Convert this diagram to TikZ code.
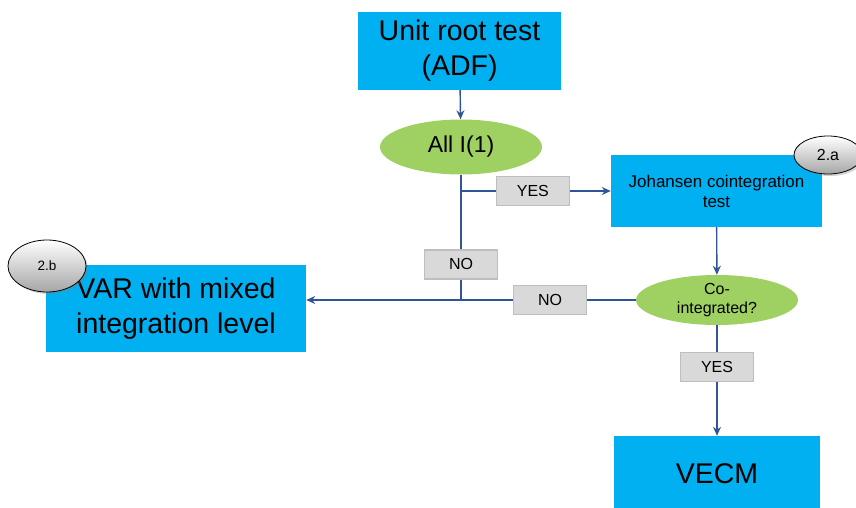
\documentclass[tikz,border=0pt]{standalone}
\usepackage{fontspec}
\setmainfont{Liberation Sans}
\usetikzlibrary{shapes.geometric, shadows, arrows.meta}
\definecolor{boxcyan}{RGB}{0,176,240}
\definecolor{decgreen}{RGB}{158,208,98}
\definecolor{lineblue}{RGB}{47,85,151}
\definecolor{lblgray}{RGB}{217,217,217}
\definecolor{lbledge}{RGB}{190,190,190}

\begin{document}
\begin{tikzpicture}[
    x=1pt, y=-1pt,
    bigbox/.style={rectangle, fill=boxcyan, inner sep=0pt, align=center, font=\fontsize{28.5}{35}\selectfont},
    smallbox/.style={rectangle, fill=boxcyan, inner sep=0pt, align=center, font=\fontsize{17}{20}\selectfont},
    decision/.style={ellipse, fill=decgreen, inner sep=0pt, align=center},
    lbl/.style={rectangle, draw=lbledge, fill=lblgray, minimum width=73pt, minimum height=29pt, inner sep=0pt, font=\fontsize{16}{19}\selectfont},
    badge/.style={ellipse, draw=black, line width=0.8pt, top color=white, bottom color=black!35, minimum height=38pt, drop shadow={shadow xshift=2pt, shadow yshift=-2pt, opacity=0.35}},
    line/.style={draw=lineblue, line width=1.4pt},
    arrow/.style={line, -{Stealth[length=9pt, width=8pt]}}
]
    \clip (0,0) rectangle (856,508);
    \useasboundingbox (0,0) rectangle (856,508);
    % Test boxes
    \node[bigbox, minimum width=203pt, minimum height=78pt] (adf) at (459.5,51) {Unit root test\\(ADF)};
    \node[smallbox, minimum width=211pt, minimum height=72pt] (johansen) at (716.5,191) {Johansen cointegration\\test};
    \node[bigbox, minimum width=260pt, minimum height=87pt] (var) at (176,308.5) {VAR with mixed\\integration level};
    \node[bigbox, minimum width=206pt, minimum height=76pt] (vecm) at (717,474) {VECM};
    % Decisions
    \node[decision, minimum width=162pt, minimum height=55pt, font=\fontsize{23}{27}\selectfont] (alli) at (461,147) {All I(1)};
    \node[decision, minimum width=162pt, minimum height=50pt, font=\fontsize{16}{19}\selectfont] (coint) at (717,300) {Co-\\integrated?};
    % Badges
    \node[badge, minimum width=68pt, font=\fontsize{16}{18}\selectfont] (tagA) at (828,155) {2.a};
    \node[badge, minimum width=78pt, minimum height=52pt, font=\fontsize{13.5}{16}\selectfont] (tagB) at (47,266) {2.b};
    % Connectors
    \coordinate (split) at (461,191);
    \coordinate (merge) at (461,300);
    \draw[arrow] (adf) -- (alli);
    \draw[line] (alli.south) -- node[lbl, pos=0.716] (no1) {NO} (merge);
    \draw[arrow] (split) -- node[lbl, pos=0.48] (yes1) {YES} (johansen.west);
    \draw[arrow] (johansen) -- (coint);
    \draw[arrow] (coint.west) -- node[lbl, pos=0.26] (no2) {NO} (var.east |- coint.west);
    \draw[arrow] (coint) -- node[lbl, pos=0.38] (yes2) {YES} (vecm);
\end{tikzpicture}
\end{document}
